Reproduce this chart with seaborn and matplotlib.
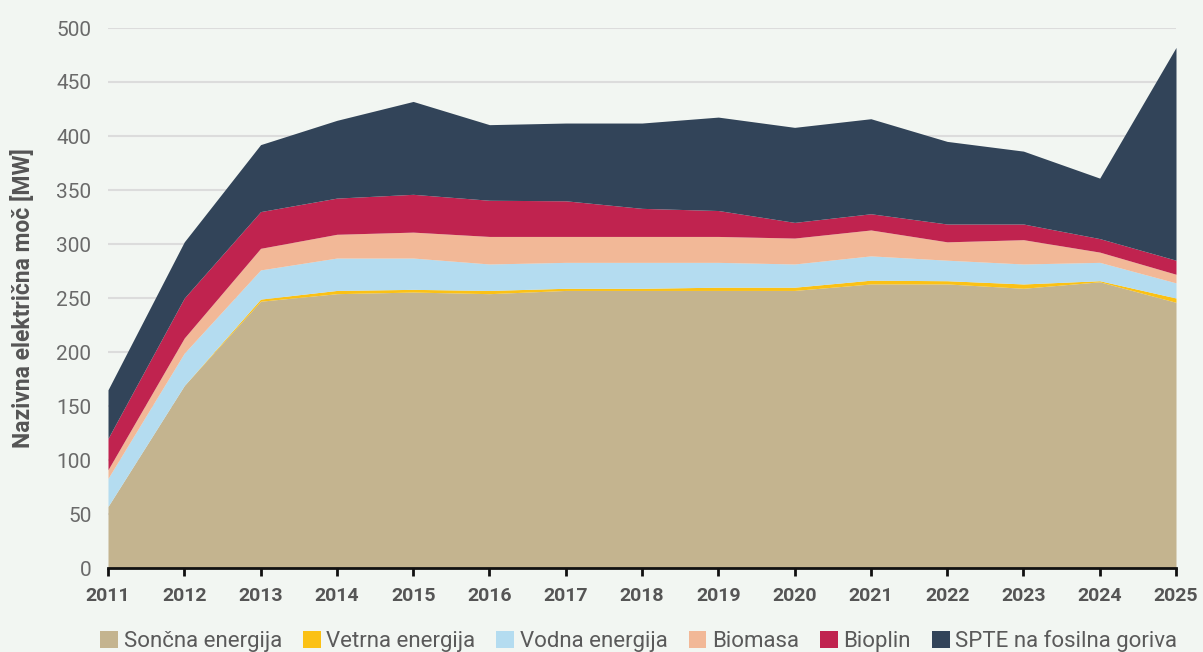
import matplotlib
matplotlib.use("Agg")
import matplotlib.pyplot as plt
import seaborn as sns
from matplotlib.patches import Patch

years = [2011, 2012, 2013, 2014, 2015, 2016, 2017, 2018, 2019, 2020, 2021, 2022, 2023, 2024, 2025]
soncna = [57, 169, 247, 254, 255.5, 254, 257, 257, 257, 257, 263, 263, 259, 265, 246]
vetrna = [0, 0, 2, 3, 2.5, 3, 2, 2, 3, 3, 3.5, 3, 4, 1, 4]
vodna = [26, 30, 27, 30, 29, 24.5, 24, 24, 23, 21.5, 22.5, 19, 18.5, 17, 14]
biomasa = [8, 14, 20, 22, 24, 25.5, 24, 24, 24, 24, 24, 17, 22.5, 9.5, 8]
bioplin = [29, 37, 34, 33.5, 35, 33.5, 33, 26, 24, 14.5, 15, 16.5, 14.5, 12.5, 13]
spte = [45, 52, 62, 72, 86, 70, 72, 79, 86.5, 88, 88, 76.5, 67.5, 56, 197]

labels = ["Sončna energija", "Vetrna energija", "Vodna energija", "Biomasa", "Bioplin", "SPTE na fosilna goriva"]
colors = ["#c4b48f", "#fbc115", "#b4dcf0", "#f2b897", "#c0234f", "#324459"]
y_ticks = [0, 50, 100, 150, 200, 250, 300, 350, 400, 450, 500]

bg = "#f2f6f2"
sns.set_theme(style="whitegrid")
plt.rcParams["font.family"] = ["Roboto", "DejaVu Sans"]

fig = plt.figure(figsize=(12.03, 6.52), dpi=100, facecolor=bg)
ax = fig.add_axes([108 / 1203, 1 - 568 / 652, (1176 - 108) / 1203, (568 - 28) / 652])
ax.set_facecolor(bg)

ax.stackplot(years, soncna, vetrna, vodna, biomasa, bioplin, spte,
             colors=colors, labels=labels, linewidth=0, zorder=2)

ax.set_xlim(years[0], years[-1])
ax.set_ylim(0, 500)
ax.set_xticks(years)
ax.set_xticklabels([str(y) for y in years], fontsize=14, fontweight="bold", color="#555555")
ax.set_yticks(y_ticks)
ax.set_yticklabels([str(v) for v in y_ticks], fontsize=15, fontweight="normal", color="#6a6a6a")

ax.grid(axis="y", color="#dcdcdc", linewidth=1.5, zorder=0)
ax.grid(axis="x", visible=False)
ax.set_axisbelow(True)
for s in ["top", "right", "left"]:
    ax.spines[s].set_visible(False)
ax.spines["bottom"].set_color("#111111")
ax.spines["bottom"].set_linewidth(2)
ax.spines["bottom"].set_zorder(5)
ax.tick_params(axis="x", which="both", bottom=True, length=6, width=2, color="#111111", pad=8)
ax.tick_params(axis="y", which="both", left=False, pad=6)

ax.set_ylabel("Nazivna električna moč [MW]", fontsize=16.5, fontweight="bold", color="#555555")
ax.yaxis.set_label_coords(-0.068, 0.5)

handles = [Patch(facecolor=c, edgecolor="none") for c in colors]
fig.legend(handles, labels, loc="center", bbox_to_anchor=(0.531, 11 / 652), ncol=6, frameon=False,
           handlelength=0.8, handleheight=0.8, handletextpad=0.25, columnspacing=0.95,
           prop={"size": 16, "weight": "normal"}, labelcolor="#5a5a5a")

fig.savefig("out.png", dpi=100, facecolor=bg)
